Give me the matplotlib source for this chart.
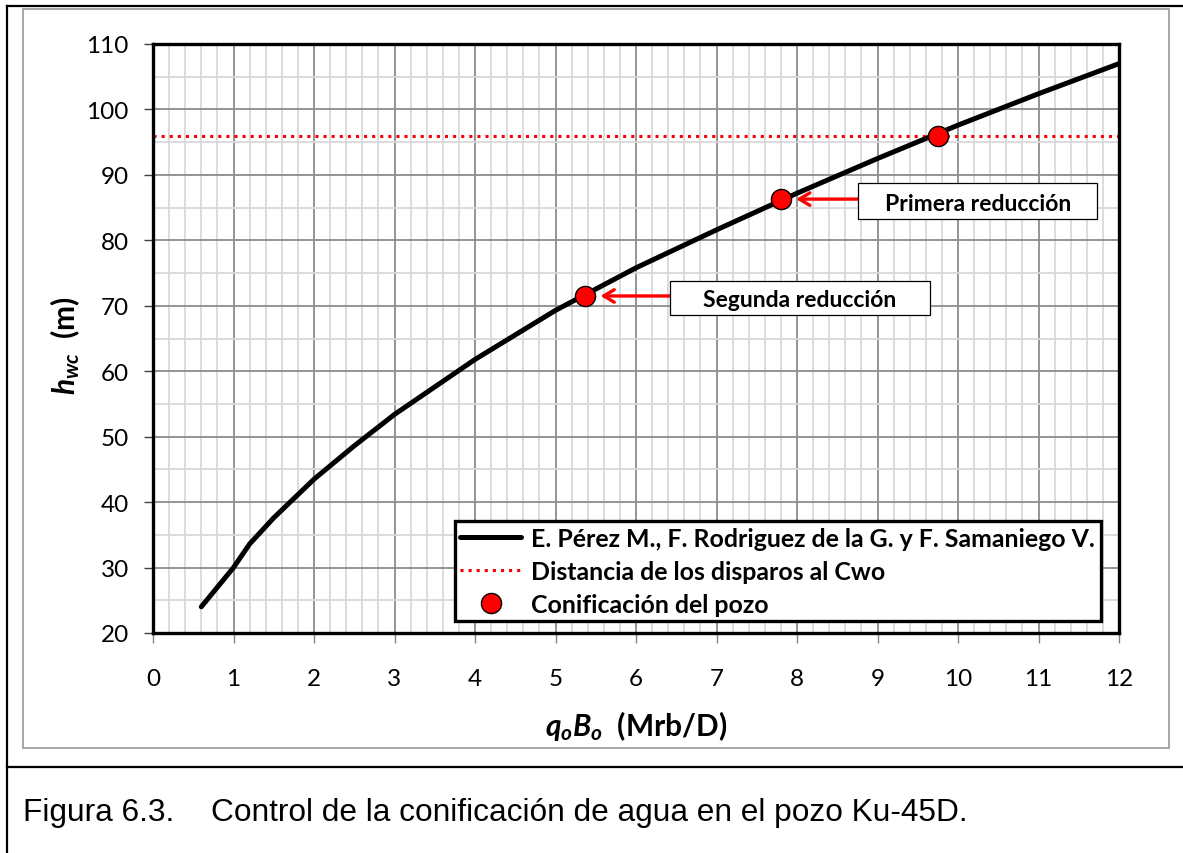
import matplotlib
matplotlib.use("Agg")
import matplotlib.pyplot as plt
from matplotlib.lines import Line2D
from matplotlib.patches import Rectangle
from matplotlib.ticker import MultipleLocator

# ---- data ----
curve_x = [0.6, 1.0, 1.2, 1.5, 2.0, 2.5, 3.0, 4.0, 5.0, 6.0, 7.0, 8.0, 9.0, 10.0, 11.0, 12.0]
curve_y = [24.0, 30.0, 33.6, 37.6, 43.5, 48.6, 53.4, 61.8, 69.3, 75.8, 81.6, 87.2, 92.5, 97.6, 102.4, 107.0]
cwo_distance = 96.0
points_x = [5.37, 7.8, 9.75]
points_y = [71.5, 86.3, 96.0]
labels = ["E. Pérez M., F. Rodriguez de la G. y F. Samaniego V.",
          "Distancia de los disparos al Cwo",
          "Conificación del pozo"]
annot_text = ["Segunda reducción", "Primera reducción"]
xlabel = r"$q_oB_o$  (Mrb/D)"
ylabel = r"$h_{wc}$  (m)"
caption_num = "Figura 6.3."
caption_text = "Control de la conificación de agua en el pozo Ku-45D."

# ---- layout (annotation boxes in data units: x0, x1, y0, y1) ----
annot_boxes = [(6.42, 9.65, 68.6, 73.8), (8.76, 11.73, 83.3, 88.7)]

plt.rcParams['font.family'] = ['Lato', 'DejaVu Sans']
plt.rcParams['mathtext.fontset'] = 'custom'
plt.rcParams['mathtext.it'] = 'Lato:bold:italic'
plt.rcParams['mathtext.rm'] = 'Lato:bold'
plt.rcParams['mathtext.bf'] = 'Lato:bold'

W, H = 1183, 854
fig = plt.figure(figsize=(W / 100, H / 100), dpi=100)
fig.patch.set_facecolor('white')

# outer frame lines
fig.add_artist(Line2D([7 / W, 7 / W], [1 - 7 / H, 0], color='black', lw=1.6, transform=fig.transFigure))
fig.add_artist(Line2D([7 / W, 1], [1 - 7 / H, 1 - 7 / H], color='black', lw=1.6, transform=fig.transFigure))
fig.add_artist(Line2D([7 / W, 1], [1 - 768 / H, 1 - 768 / H], color='black', lw=1.6, transform=fig.transFigure))
# gray chart area border
fig.add_artist(Rectangle((23 / W, 1 - 749 / H), 1146 / W, 739 / H, fill=False,
                         edgecolor='#a6a6a6', lw=1.4, transform=fig.transFigure))

ax = fig.add_axes([153 / W, 1 - 634 / H, 966 / W, 589 / H])
ax.set_xlim(0, 12)
ax.set_ylim(20, 110)
ax.xaxis.set_major_locator(MultipleLocator(1))
ax.xaxis.set_minor_locator(MultipleLocator(0.2))
ax.yaxis.set_major_locator(MultipleLocator(10))
ax.yaxis.set_minor_locator(MultipleLocator(5))
ax.grid(which='minor', color='#d9d9d9', lw=1.3, zorder=0)
ax.grid(which='major', color='#8c8c8c', lw=1.3, zorder=0)
ax.set_axisbelow(True)
for s in ax.spines.values():
    s.set_linewidth(2.4)
    s.set_color('black')
ax.tick_params(which='minor', length=0)
ax.tick_params(axis='x', which='major', length=7, width=1.0, color='#808080', pad=18, labelsize=17.5)
ax.tick_params(axis='y', which='major', length=6.5, width=1.0, color='#404040', pad=11, labelsize=17.5)

line, = ax.plot(curve_x, curve_y, color='black', lw=3.6, solid_capstyle='round',
                solid_joinstyle='round', zorder=3, label=labels[0])
hline = ax.axhline(cwo_distance, color='red', lw=2.2, ls=':', zorder=2, label=labels[1])
pts, = ax.plot(points_x, points_y, ls='none', marker='o', ms=14.5, mfc='red', mec='black', mew=1.0,
               zorder=4, label=labels[2])

# annotations
for i, (txt, (x0, x1, y0, y1)) in enumerate(zip(annot_text, annot_boxes)):
    px, py = points_x[i], points_y[i]
    ax.annotate('', xy=(px + 0.19, py), xytext=(x0, py),
                arrowprops=dict(arrowstyle='->,head_length=0.75,head_width=0.45', color='red', lw=2.4,
                                shrinkA=0, shrinkB=0), zorder=5)
    ax.add_patch(Rectangle((x0, y0), x1 - x0, y1 - y0, fc='white', ec='black', lw=0.9, zorder=6))
    ax.text((x0 + x1) / 2, (y0 + y1) / 2, txt, ha='center', va='center_baseline', fontsize=16.5,
            fontweight='bold', zorder=7)

leg = ax.legend(handles=[line, hline, pts], loc='lower left', bbox_to_anchor=(0.3126, 0.0204),
                frameon=True, fancybox=False, framealpha=1, edgecolor='black',
                handlelength=2.45, handletextpad=0.4, borderpad=0.22, labelspacing=0.4,
                borderaxespad=0, prop={'weight': 'bold', 'size': 17.9})
leg.get_frame().set_linewidth(2.4)

ax.set_xlabel(xlabel, fontsize=21.5, fontweight='bold')
ax.set_ylabel(ylabel, fontsize=21.5, fontweight='bold')
ax.xaxis.set_label_coords(0.5, -0.128)
ax.yaxis.set_label_coords(-0.074, 0.49)

fig.text(23 / W, 1 - 813 / H, caption_num, fontsize=22.8, family='Liberation Sans', va='center', ha='left')
fig.text(211 / W, 1 - 813 / H, caption_text, fontsize=22.8, family='Liberation Sans', va='center', ha='left')

fig.savefig('out.png', dpi=100, facecolor='white')
